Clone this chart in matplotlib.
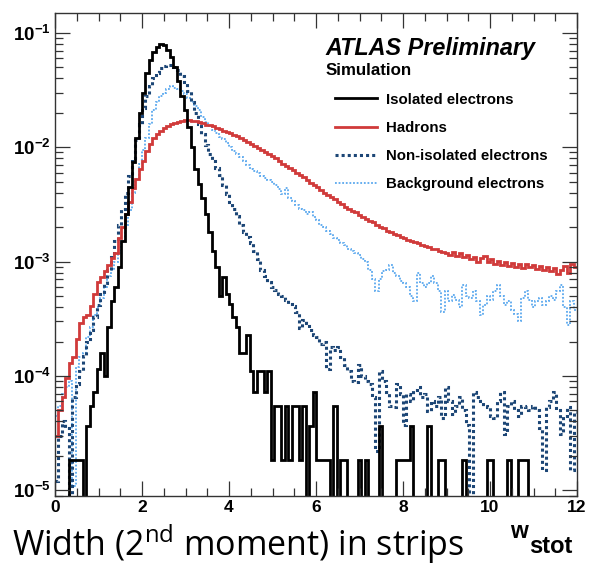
import numpy as np
import matplotlib.pyplot as plt
from matplotlib.lines import Line2D
from matplotlib.ticker import MultipleLocator, LogLocator, NullFormatter, FuncFormatter

plt.rcParams['font.family'] = ['Liberation Sans', 'DejaVu Sans']
plt.rcParams['mathtext.fontset'] = 'custom'
plt.rcParams['mathtext.rm'] = 'Open Sans'
plt.rcParams['mathtext.bf'] = 'Liberation Sans:bold'

# 150 bins of width 0.08 between 0 and 12
edges = np.linspace(0, 12, 151)

isolated = [
    0, 0, 0, 0, 1.83e-5, 1.83e-5, 1.83e-5, 1.83e-5, 0, 3.66e-5,
    5.5e-5, 7.3e-5, 1.15e-4, 1.6e-4, 1.0e-4, 2.7e-4, 4.5e-4, 6.0e-4, 9.0e-4, 1.5e-3,
    2.6e-3, 4.5e-3, 7.5e-3, 1.2e-2, 2.0e-2, 3.0e-2, 4.5e-2, 5.8e-2, 6.8e-2, 7.6e-2,
    8.0e-2, 7.8e-2, 7.1e-2, 6.1e-2, 5.0e-2, 3.8e-2, 2.8e-2, 2.1e-2, 1.5e-2, 1.0e-2,
    6.5e-3, 4.8e-3, 3.6e-3, 2.6e-3, 1.8e-3, 1.25e-3, 9.0e-4, 5.0e-4, 7.3e-4, 5.2e-4,
    4.3e-4, 3.3e-4, 2.7e-4, 1.6e-4, 1.6e-4, 2.3e-4, 1.1e-4, 7.3e-5, 1.1e-4, 1.1e-4,
    7.3e-5, 1.1e-4, 1.83e-5, 5.5e-5, 5.5e-5, 1.83e-5, 5.5e-5, 1.83e-5, 5.5e-5, 5.5e-5,
    1.83e-5, 5.5e-5, 0, 3.66e-5, 7.3e-5, 1.83e-5, 1.83e-5, 1.83e-5, 1.83e-5, 0,
    5.5e-5, 0, 1.83e-5, 1.83e-5, 0, 0, 0, 1.83e-5, 0, 1.83e-5,
    0, 0, 0, 3.66e-5, 0, 0, 0, 0, 1.83e-5, 1.83e-5,
    1.83e-5, 1.83e-5, 3.66e-5, 0, 0, 0, 0, 3.66e-5, 0, 0,
    1.83e-5, 1.83e-5, 0, 0, 0, 0, 0, 1.83e-5, 0, 0,
    0, 0, 0, 0, 1.83e-5, 1.83e-5, 0, 0, 0, 0,
    1.83e-5, 0, 0, 1.83e-5, 1.83e-5, 1.83e-5, 0, 0, 0, 0,
    0, 0, 0, 0, 0, 0, 0, 0, 0, 0,
]

hadrons = [
    3.0e-5, 5.0e-5, 6.5e-5, 9.5e-5, 1.3e-4, 1.45e-4, 2.1e-4, 2.9e-4, 3.3e-4, 3.4e-4,
    4.1e-4, 5.2e-4, 6.6e-4, 7.4e-4, 8.3e-4, 9.3e-4, 1.07e-3, 1.2e-3, 1.6e-3, 2.0e-3,
    2.6e-3, 3.3e-3, 4.4e-3, 5.3e-3, 6.4e-3, 7.6e-3, 9.2e-3, 1.06e-2, 1.2e-2, 1.3e-2,
    1.4e-2, 1.48e-2, 1.53e-2, 1.6e-2, 1.63e-2, 1.66e-2, 1.7e-2, 1.72e-2, 1.74e-2, 1.7e-2,
    1.68e-2, 1.66e-2, 1.64e-2, 1.58e-2, 1.57e-2, 1.52e-2, 1.47e-2, 1.44e-2, 1.40e-2, 1.36e-2,
    1.33e-2, 1.28e-2, 1.25e-2, 1.2e-2, 1.16e-2, 1.12e-2, 1.07e-2, 1.03e-2, 9.8e-3, 9.5e-3,
    9.1e-3, 8.8e-3, 8.4e-3, 8.0e-3, 7.6e-3, 7.2e-3, 6.9e-3, 6.6e-3, 6.3e-3, 6.0e-3,
    5.7e-3, 5.5e-3, 5.2e-3, 4.9e-3, 4.7e-3, 4.5e-3, 4.2e-3, 4.0e-3, 3.8e-3, 3.7e-3,
    3.5e-3, 3.3e-3, 3.2e-3, 3.0e-3, 2.9e-3, 2.75e-3, 2.7e-3, 2.55e-3, 2.45e-3, 2.35e-3,
    2.25e-3, 2.2e-3, 2.1e-3, 2.0e-3, 1.95e-3, 1.85e-3, 1.8e-3, 1.75e-3, 1.7e-3, 1.65e-3,
    1.6e-3, 1.55e-3, 1.5e-3, 1.48e-3, 1.45e-3, 1.4e-3, 1.38e-3, 1.35e-3, 1.3e-3, 1.28e-3,
    1.25e-3, 1.22e-3, 1.2e-3, 1.15e-3, 1.22e-3, 1.12e-3, 1.18e-3, 1.1e-3, 1.14e-3, 1.05e-3,
    1.1e-3, 1.0e-3, 1.08e-3, 1.12e-3, 1.0e-3, 1.05e-3, 9.6e-4, 1.02e-3, 9.4e-4, 1.0e-3,
    9.2e-4, 9.8e-4, 9.0e-4, 9.6e-4, 8.8e-4, 9.5e-4, 9.0e-4, 9.4e-4, 8.6e-4, 9.2e-4,
    8.5e-4, 9.0e-4, 8.2e-4, 8.8e-4, 7.8e-4, 8.5e-4, 9.2e-4, 8.0e-4, 9.6e-4, 9.0e-4,
]

non_isolated = [
    1.2e-5, 3.0e-5, 4.0e-5, 3.5e-5, 0, 6.5e-5, 8.5e-5, 1.1e-4, 1.5e-4, 2.0e-4,
    2.5e-4, 3.3e-4, 4.2e-4, 5.2e-4, 6.5e-4, 8.5e-4, 1.1e-3, 1.5e-3, 2.1e-3, 2.9e-3,
    4.0e-3, 5.6e-3, 8.0e-3, 1.15e-2, 1.6e-2, 2.2e-2, 2.8e-2, 3.4e-2, 4.0e-2, 4.5e-2,
    4.9e-2, 5.1e-2, 5.2e-2, 5.2e-2, 5.0e-2, 4.7e-2, 4.2e-2, 3.7e-2, 3.1e-2, 2.5e-2,
    2.0e-2, 1.6e-2, 1.3e-2, 1.05e-2, 8.8e-3, 7.6e-3, 6.6e-3, 5.7e-3, 4.7e-3, 3.9e-3,
    3.3e-3, 2.9e-3, 2.5e-3, 2.1e-3, 1.8e-3, 1.65e-3, 1.45e-3, 1.25e-3, 1.05e-3, 8.5e-4,
    7.5e-4, 6.6e-4, 6.0e-4, 5.6e-4, 5.2e-4, 5.0e-4, 4.6e-4, 4.3e-4, 4.1e-4, 3.6e-4,
    2.6e-4, 3.1e-4, 2.9e-4, 2.5e-4, 2.3e-4, 2.2e-4, 1.9e-4, 2.0e-4, 1.15e-4, 1.8e-4,
    1.7e-4, 1.8e-4, 1.45e-4, 1.25e-4, 1.1e-4, 9.0e-5, 8.8e-5, 1.25e-4, 1.0e-4, 9.0e-5,
    8.5e-5, 6.5e-5, 2.2e-5, 1.1e-4, 9.0e-5, 7.3e-5, 5.5e-5, 5.3e-5, 8.5e-5, 7.0e-5,
    3.7e-5, 7.0e-5, 6.0e-5, 7.5e-5, 8.0e-5, 6.5e-5, 7.0e-5, 4.9e-5, 6.0e-5, 5.5e-5,
    6.5e-5, 4.3e-5, 8.0e-5, 6.0e-5, 4.6e-5, 5.5e-5, 6.5e-5, 5.0e-5, 3.7e-5, 0,
    7.3e-5, 6.5e-5, 6.0e-5, 5.5e-5, 5.3e-5, 4.5e-5, 4.3e-5, 6.0e-5, 7.3e-5, 3.1e-5,
    5.5e-5, 6.0e-5, 5.0e-5, 4.5e-5, 5.5e-5, 5.3e-5, 5.0e-5, 5.5e-5, 5.0e-5, 3.5e-5,
    1.5e-5, 5.3e-5, 6.0e-5, 7.3e-5, 5.0e-5, 3.1e-5, 4.5e-5, 5.3e-5, 1.5e-5, 4.8e-5,
]

background = [
    4.5e-5, 5.5e-5, 7.0e-5, 8.0e-5, 9.0e-5, 1.1e-5, 1.2e-4, 1.45e-4, 1.6e-4, 2.2e-4,
    2.7e-4, 3.4e-4, 4.0e-4, 4.8e-4, 6.0e-4, 7.5e-4, 8.5e-4, 1.0e-3, 1.2e-3, 1.5e-3,
    2.1e-3, 2.8e-3, 4.0e-3, 5.3e-3, 7.2e-3, 9.5e-3, 1.2e-2, 1.6e-2, 2.1e-2, 2.5e-2,
    2.8e-2, 3.0e-2, 3.2e-2, 3.4e-2, 3.3e-2, 3.2e-2, 3.1e-2, 2.9e-2, 2.7e-2, 2.5e-2,
    2.3e-2, 2.1e-2, 1.85e-2, 1.65e-2, 1.52e-2, 1.42e-2, 1.33e-2, 1.24e-2, 1.17e-2, 1.08e-2,
    1.0e-2, 9.3e-3, 8.8e-3, 8.2e-3, 7.6e-3, 7.0e-3, 6.5e-3, 6.2e-3, 5.9e-3, 5.6e-3,
    5.4e-3, 5.2e-3, 5.0e-3, 4.7e-3, 4.3e-3, 3.9e-3, 4.4e-3, 3.6e-3, 3.4e-3, 3.1e-3,
    2.9e-3, 2.8e-3, 2.6e-3, 2.7e-3, 2.45e-3, 2.3e-3, 2.1e-3, 2.0e-3, 1.85e-3, 1.75e-3,
    1.6e-3, 1.55e-3, 1.45e-3, 1.4e-3, 1.3e-3, 1.25e-3, 1.2e-3, 1.15e-3, 1.05e-3, 1.0e-3,
    8.5e-4, 7.0e-4, 5.5e-4, 7.0e-4, 8.2e-4, 8.5e-4, 9.4e-4, 8.0e-4, 7.5e-4, 6.7e-4,
    6.5e-4, 6.0e-4, 5.0e-4, 4.5e-4, 8.0e-4, 6.5e-4, 6.0e-4, 6.5e-4, 7.5e-4, 6.5e-4,
    5.5e-4, 3.6e-4, 5.5e-4, 4.5e-4, 5.1e-4, 4.6e-4, 4.0e-4, 6.3e-4, 5.0e-4, 4.8e-4,
    5.5e-4, 4.5e-4, 3.4e-4, 4.2e-4, 5.0e-4, 4.6e-4, 5.5e-4, 6.3e-4, 5.0e-4, 4.2e-4,
    4.5e-4, 3.8e-4, 3.5e-4, 3.0e-4, 4.8e-4, 5.5e-4, 4.6e-4, 4.0e-4, 4.5e-4, 4.8e-4,
    4.2e-4, 4.5e-4, 5.0e-4, 4.6e-4, 5.5e-4, 6.3e-4, 4.0e-4, 2.8e-4, 4.5e-4, 3.8e-4,
]

labels = ['Isolated electrons', 'Hadrons', 'Non-isolated electrons', 'Background electrons']
c_black = '#000000'
c_red = '#d03a3a'
c_navy = '#1c4676'
c_light = '#5aa8ee'

fig = plt.figure(figsize=(5.92, 5.66), dpi=100)
ax = fig.add_axes([55 / 592, 1 - 496 / 566, 522 / 592, 483 / 566])

ax.stairs(background, edges, baseline=None, color=c_light, lw=1.3, ls=(0, (1, 1)))
ax.stairs(non_isolated, edges, baseline=None, color=c_navy, lw=2.2, ls=(0, (1, 1)))
ax.stairs(hadrons, edges, baseline=None, color=c_red, lw=2.0)
ax.stairs(isolated, edges, baseline=None, color=c_black, lw=2.0)

ax.set_xlim(0, 12)
ax.set_yscale('log')
ax.set_ylim(10 ** -5.05, 10 ** -0.826)

ax.xaxis.set_major_locator(MultipleLocator(2))
ax.xaxis.set_minor_locator(MultipleLocator(0.5))
ax.yaxis.set_major_locator(LogLocator(base=10))
ax.yaxis.set_minor_locator(LogLocator(base=10, subs=np.arange(2, 10)))
ax.yaxis.set_minor_formatter(NullFormatter())
ax.yaxis.set_major_formatter(FuncFormatter(
    lambda v, p: r'$\mathbf{10^{%d}}$' % int(round(np.log10(v)))))

ax.tick_params(which='both', direction='in', top=True, right=True, color='#333333')
ax.tick_params(which='major', length=11, width=0.9)
ax.tick_params(which='minor', length=5.5, width=0.9)
ax.tick_params(axis='x', labelsize=12.5, pad=3)
ax.tick_params(axis='y', labelsize=13.5, pad=3)
for lab in ax.get_xticklabels():
    lab.set_fontweight('bold')
for sp in ax.spines.values():
    sp.set_color('#333333')
    sp.set_linewidth(1.0)

ax.text(0.519, 0.913, 'ATLAS Preliminary', transform=ax.transAxes,
        fontsize=16.8, fontweight='bold', fontstyle='italic', va='baseline')
ax.text(0.519, 0.872, 'Simulation', transform=ax.transAxes,
        fontsize=12.2, fontweight='bold', va='baseline')

handles = [
    Line2D([], [], color=c_black, lw=2.0),
    Line2D([], [], color=c_red, lw=2.0),
    Line2D([], [], color=c_navy, lw=2.2, ls=(0, (1, 1))),
    Line2D([], [], color=c_light, lw=1.3, ls=(0, (1, 1))),
]
ax.legend(handles, labels, loc='upper left', bbox_to_anchor=(0.536, 0.835),
          frameon=False, borderpad=0, borderaxespad=0, handlelength=2.8,
          handletextpad=0.6, labelspacing=0.95,
          prop={'family': 'Liberation Sans', 'weight': 'bold', 'size': 10.8})

fig.text(12 / 592, (566 - 556) / 566, r'Width (2$^{\mathrm{nd}}$ moment) in strips',
         fontsize=24.5, family='Open Sans', va='baseline')
fig.text(510 / 592, (566 - 538) / 566, 'w', fontsize=16.5, fontweight='bold', va='baseline')
fig.text(529 / 592, (566 - 553) / 566, 'stot', fontsize=17, fontweight='bold', va='baseline')

fig.savefig('out.png', dpi=100)
